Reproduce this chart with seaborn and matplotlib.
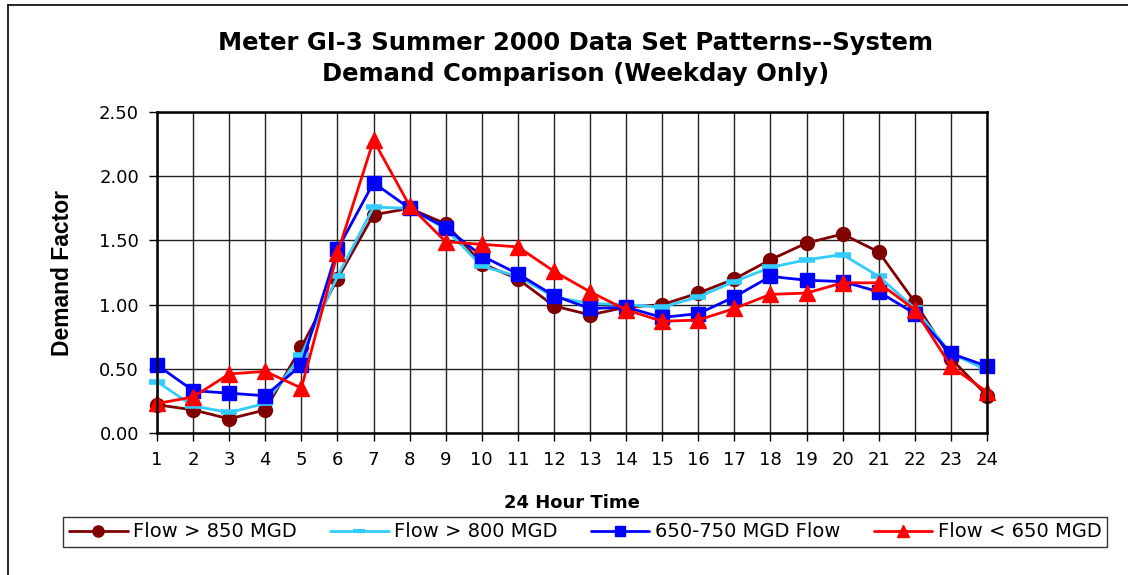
import numpy as np
import pandas as pd
import matplotlib
matplotlib.use("Agg")
import matplotlib.pyplot as plt
from matplotlib.lines import Line2D
import seaborn as sns

hours = list(range(1, 25))
flow_850 = [0.22, 0.18, 0.11, 0.18, 0.67, 1.20, 1.70, 1.75, 1.63, 1.32, 1.20, 0.99,
            0.92, 0.98, 1.00, 1.09, 1.20, 1.35, 1.48, 1.55, 1.41, 1.02, 0.58, 0.29]
flow_800 = [0.40, 0.21, 0.16, 0.23, 0.61, 1.22, 1.76, 1.75, 1.59, 1.30, 1.22, 1.06,
            1.01, 1.00, 0.98, 1.06, 1.18, 1.29, 1.35, 1.39, 1.22, 0.97, 0.62, 0.49]
flow_650_750 = [0.53, 0.33, 0.31, 0.29, 0.53, 1.43, 1.95, 1.75, 1.60, 1.38, 1.24, 1.07,
                0.97, 0.98, 0.90, 0.93, 1.06, 1.22, 1.19, 1.18, 1.10, 0.93, 0.62, 0.52]
flow_650 = [0.23, 0.28, 0.46, 0.48, 0.35, 1.40, 2.28, 1.77, 1.49, 1.47, 1.45, 1.26,
            1.10, 0.96, 0.87, 0.88, 0.97, 1.08, 1.09, 1.17, 1.17, 0.96, 0.52, 0.32]
labels = ["Flow > 850 MGD", "Flow > 800 MGD", "650-750 MGD Flow", "Flow < 650 MGD"]

series = [flow_850, flow_800, flow_650_750, flow_650]
colors = ["#800000", "#33CCFF", "#0000FF", "#FF0000"]
markers = ["o", "_", "s", "^"]
msizes = [10, 11, 9.5, 11]

sns.set_style("white")
plt.rcParams['font.family'] = ['DejaVu Sans']
plt.rcParams.update({"text.color": "black", "axes.labelcolor": "black",
                     "xtick.color": "black", "ytick.color": "black"})

fig = plt.figure(figsize=(11.28, 5.75), dpi=100)
ax = fig.add_axes([0.1392, 0.247, 0.7358, 0.558])

for vals, lab, c, m, ms in zip(series, labels, colors, markers, msizes):
    df = pd.DataFrame({"hour": hours, "factor": vals})
    mew = 4 if m == "_" else 1
    sns.lineplot(data=df, x="hour", y="factor", ax=ax, color=c, marker=m,
                 markersize=ms, markeredgewidth=mew, markeredgecolor=c,
                 linewidth=2, label=lab, legend=False, clip_on=False)

ax.set_xlim(1, 24)
ax.set_ylim(0, 2.5)
ax.set_xticks(hours)
ax.set_xticklabels([str(h) for h in hours], fontsize=13)
ax.set_yticks(np.arange(0, 2.51, 0.5))
ax.set_yticklabels(["%.2f" % v for v in np.arange(0, 2.51, 0.5)], fontsize=13)
ax.grid(True, color="#222222", linewidth=1)
ax.set_axisbelow(True)
for s in ax.spines.values():
    s.set_visible(True)
    s.set_color("black")
    s.set_linewidth(1.8)
ax.tick_params(axis="both", direction="out", length=6, width=1, color="black",
               bottom=True, left=True, pad=7)

ax.set_xlabel("24 Hour Time", fontsize=13, fontweight="bold", labelpad=18)
ax.set_ylabel("Demand Factor", fontsize=16.5, fontweight="bold", labelpad=18,
              family="Liberation Sans")

fig.text(0.51, 0.898, "Meter GI-3 Summer 2000 Data Set Patterns--System\nDemand Comparison (Weekday Only)",
         ha="center", va="center", fontsize=17.5, fontweight="bold",
         linespacing=1.35)

handles = [Line2D([0], [0], color=c, marker=m, markersize=ms * 0.8,
                  markeredgewidth=(3 if m == "_" else 1), markeredgecolor=c, linewidth=2)
           for c, m, ms in zip(colors, markers, msizes)]
leg = fig.legend(handles, labels, loc="center", bbox_to_anchor=(0.519, 0.075), ncol=4,
                 fontsize=14, frameon=True, fancybox=False, edgecolor="black",
                 handlelength=3.0, handletextpad=0.3, columnspacing=1.7,
                 borderpad=0.3)
leg.get_frame().set_linewidth(1)

fig.add_artist(Line2D([0.0071, 0.0071], [0, 0.9913], color="black", linewidth=1.2))
fig.add_artist(Line2D([0.0071, 1], [0.9913, 0.9913], color="black", linewidth=1.2))

fig.savefig("out.png", dpi=100)
